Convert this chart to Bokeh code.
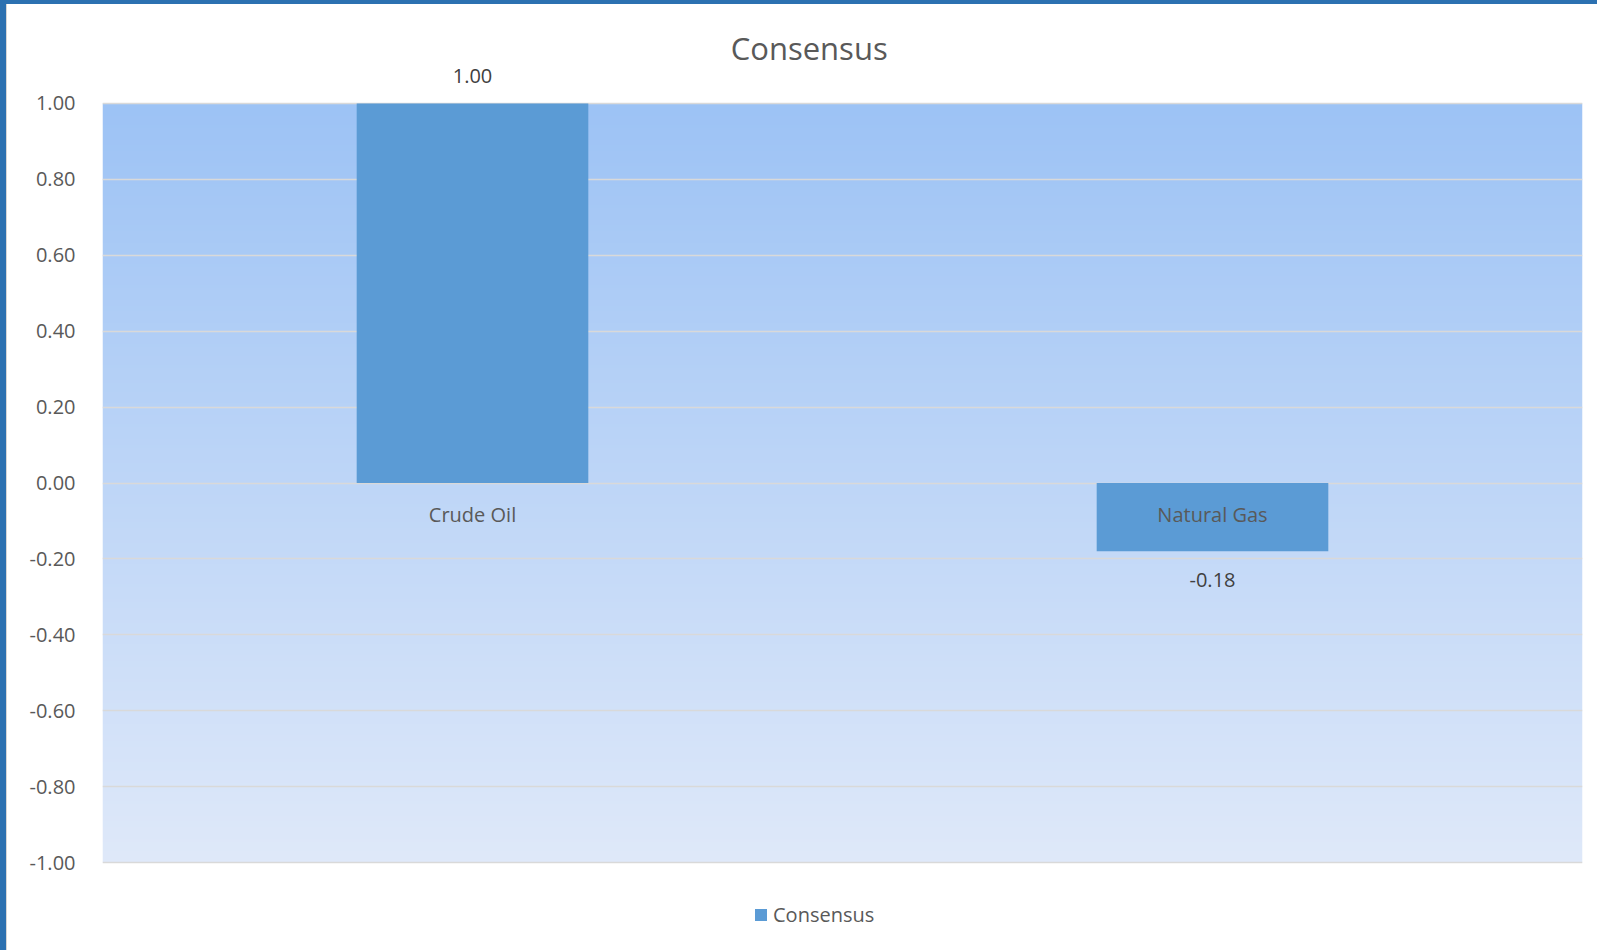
import numpy as np
from bokeh.plotting import figure
from bokeh.layouts import column, row
from bokeh.models import (Range1d, NumeralTickFormatter, FixedTicker, Label, Legend, LegendItem,
                          ColumnDataSource, Spacer)
from bokeh.core.properties import value
from bokeh.embed import file_html
from bokeh.resources import INLINE

categories = ["Crude Oil", "Natural Gas"]
consensus = [1.00, -0.18]
y_ticks = [-1.0, -0.8, -0.6, -0.4, -0.2, 0.0, 0.2, 0.4, 0.6, 0.8, 1.0]
title_text = "Consensus"
series_name = "Consensus"

FONT = "Open Sans"
BAR = "#5B9BD5"
GRID = "#D9D9D9"
TXT = "#595959"
FRAME_BLUE = "#2C71B1"

# frame spans nearly the whole height so that title / labels / legend are not clipped
Y_HI = 1.245
Y_LO = -1.179

p = figure(width=1585, height=940, output_backend="svg", toolbar_location=None,
           x_range=Range1d(0, len(categories)), y_range=Range1d(Y_LO, Y_HI),
           min_border_left=95, min_border_right=10, min_border_top=6, min_border_bottom=14,
           tools="")
p.frame_width = 1480
p.frame_height = 920
p.outline_line_color = None
p.background_fill_color = "white"
p.border_fill_color = "white"

# gradient plot-area background
top_c = np.array([157, 195, 245])
bot_c = np.array([223, 233, 250])
n = 256
t = np.linspace(0, 1, n)[:, None]
cols = (bot_c * (1 - t) + top_c * t).astype(np.uint32)
img = np.empty((n, 1), dtype=np.uint32)
view = img.view(dtype=np.uint8).reshape((n, 1, 4))
view[:, 0, 0] = cols[:, 0]
view[:, 0, 1] = cols[:, 1]
view[:, 0, 2] = cols[:, 2]
view[:, 0, 3] = 255
p.image_rgba(image=[img], x=0, y=y_ticks[0], dw=len(categories),
             dh=y_ticks[-1] - y_ticks[0], level="image")

xs = [i + 0.5 for i in range(len(categories))]
src = ColumnDataSource(dict(
    x=xs, top=consensus, cat=categories,
    lab=[f"{v:.2f}" for v in consensus],
    loff=[-27 if v >= 0 else 29 for v in consensus],
))
bars = p.vbar(x="x", top="top", bottom=0, width=0.313, source=src,
              fill_color=BAR, line_color=None)

p.text(x="x", y=0, text="cat", source=src, y_offset=31, text_align="center",
       text_baseline="middle", text_font=value(FONT), text_font_size="20px", text_color=TXT)
p.text(x="x", y="top", text="lab", source=src, y_offset="loff", text_align="center",
       text_baseline="middle", text_font=value(FONT), text_font_size="20px", text_color="#404040")

p.xaxis.visible = False
p.xgrid.visible = False
p.ygrid.grid_line_color = GRID
p.ygrid.grid_line_width = 1.5
p.ygrid.ticker = FixedTicker(ticks=y_ticks)

ya = p.yaxis[0]
ya.ticker = FixedTicker(ticks=y_ticks)
ya.formatter = NumeralTickFormatter(format="0.00")
ya.axis_line_color = None
ya.major_tick_line_color = None
ya.minor_tick_line_color = None
ya.major_tick_in = 0
ya.major_tick_out = 0
ya.major_label_standoff = 27
ya.major_label_text_font = FONT
ya.major_label_text_font_size = "20px"
ya.major_label_text_color = TXT

p.title = None
p.add_layout(Label(x=0.955, y=Y_HI - 0.1, text=title_text, text_align="center",
                   text_baseline="middle", text_font=FONT, text_font_size="31px",
                   text_color=TXT))

legend = Legend(items=[LegendItem(label=series_name, renderers=[bars])],
                location=(651, 2), orientation="horizontal",
                padding=0, margin=0, spacing=0, label_standoff=5,
                glyph_width=15, glyph_height=15,
                label_text_font=FONT, label_text_font_size="20px", label_text_color=TXT,
                border_line_color=None, background_fill_alpha=0)
p.add_layout(legend, "center")

top_strip = Spacer(width=1597, height=4, styles={"background-color": FRAME_BLUE})
left_strip = Spacer(width=7, height=946, styles={"background-color": FRAME_BLUE,
                                                 "border-right": "1px solid #D6D6D6"})
page = column(top_strip, row(left_strip, p, spacing=0), spacing=0)

open("out.html", "w").write(file_html(page, INLINE))
